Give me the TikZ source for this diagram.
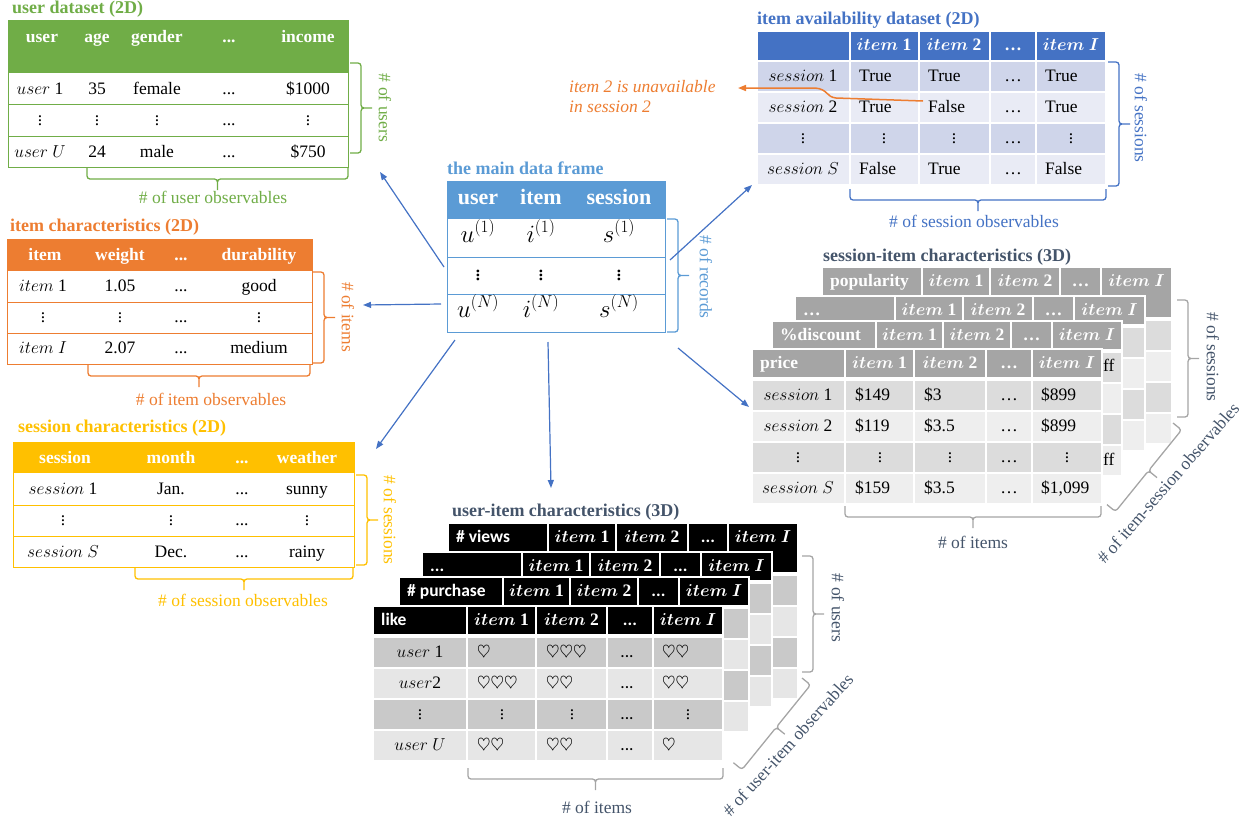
\documentclass[tikz,border=0pt]{standalone}
\usepackage{fontspec}
\setmainfont{Liberation Serif}
\newfontfamily\calib{Carlito}
\usepackage{bm}
\usetikzlibrary{arrows.meta}
\definecolor{ugreen}{HTML}{70AD47}
\definecolor{iorange}{HTML}{ED7D31}
\definecolor{sgold}{HTML}{FFC000}
\definecolor{mblue}{HTML}{5B9BD5}
\definecolor{ablue}{HTML}{4472C4}
\definecolor{arow}{HTML}{CFD5EA}
\definecolor{brow}{HTML}{E9EBF5}
\definecolor{slate}{HTML}{44546A}
\definecolor{gbrace}{HTML}{A5A5A5}
\definecolor{ghead}{HTML}{A5A5A5}
\definecolor{gdark}{HTML}{DCDCDC}
\definecolor{glight}{HTML}{EEEEEE}
\definecolor{kdark}{HTML}{C9C9C9}
\definecolor{klight}{HTML}{E6E6E6}
\newcommand\tdots{...}
\def\sheethead{ghead}\def\sheetdark{gdark}\def\sheetlight{glight}\def\sheetfont{\rmfamily}\def\hdots{\ldots}
% one layer of a 3D table: x, y, header height, first label, column borders, name
\newcommand\sheet[9]{%
  \begin{scope}[shift={(#1,#2)}]
    \foreach \r in {0,...,3}{%
      \pgfmathsetmacro\ya{#3+2+31*\r}%
      \ifodd\r\def\rf{\sheetlight}\else\def\rf{\sheetdark}\fi
      \foreach \ca/\cb in {0/#5,#5/#6,#6/#7,#7/#8,#8/350}
        \filldraw[fill=\rf,draw=white,line width=1.5pt] (\ca,\ya) rectangle (\cb,\ya+31);
    }
    \foreach \ca/\cb in {0/#5,#5/#6,#6/#7,#7/#8,#8/350}
      \filldraw[hdcell] (\ca,0) rectangle (\cb,#3);
    \node[sheetlab] (#9-h1) at (8,15) {#4};
    \node[hd] (#9-h2) at ({(#5+#6)/2},15) {$\bm{item}$ 1};
    \node[hd] (#9-h3) at ({(#6+#7)/2},15) {$\bm{item}$ 2};
    \node[sheetlab,anchor=center] (#9-h4) at ({(#7+#8)/2},15) {\hdots};
    \node[hd] (#9-h5) at ({(#8+350)/2},15) {$\bm{item\ I}$};
  \end{scope}}
\tikzset{
  txt/.style={inner sep=0,text height=12pt,text depth=4pt},
  lt/.style={txt,anchor=west},
  hd/.style={txt,text=white,font=\fontsize{17.5}{20}\selectfont\bfseries},
  ttl/.style={anchor=west,inner sep=0,font=\fontsize{18}{20}\selectfont\bfseries},
  lbl/.style={inner sep=0},
  hdcell/.style={fill=\sheethead,draw=white,line width=1.5pt},
  sheetlab/.style={hd,anchor=west,font=\fontsize{17.5}{20}\selectfont\sheetfont\bfseries},
  conn/.style={ablue,line width=1.2pt,->},
  brk/.pic={\draw[pic actions,rounded corners=3pt,line width=1.3pt]
    (0,0) -| (11,{#1/2}) -- (22,{#1/2}) (0,#1) -| (11,{#1/2}) -- (22,{#1/2});},
}
\begin{document}
\begin{tikzpicture}[x=1pt,y=-1pt,>={Triangle[length=8pt,width=6pt]},font=\fontsize{17.5}{20}\selectfont]
\useasboundingbox (0,0) rectangle (1250,820);
% user dataset
\node[ttl,ugreen] (ud) at (12,9) {user dataset (2D)};
\fill[ugreen] (8,20) rectangle (348,73);
\draw[ugreen,line width=1pt] (8,20) rectangle (348,167) (8,104) -- (348,104) (8,136) -- (348,136);
\foreach \x/\t [count=\i] in {42/user,97/age,157/gender,229/\tdots,308/income}
  \node[hd] (ud-0-\i) at (\x,38) {\t};
\foreach \y/\va/\vb/\vc/\vd [count=\j] in {90/{$user$ 1}/35/female/\$1000,121/{$\vdots$}/{$\vdots$}/{$\vdots$}/{$\vdots$},153/{$user$ $U$}/24/male/\$750}{
  \node[txt] (ud-\j-1) at (40,\y) {\va};
  \node[txt] (ud-\j-2) at (97,\y) {\vb};
  \node[txt] (ud-\j-3) at (157,\y) {\vc};
  \node[txt] (ud-\j-4) at (229,\y) {\tdots};
  \node[txt] (ud-\j-5) at (308,\y) {\vd};
}
\pic[color=ugreen] at (350,63) {brk=90};
\node[lbl,ugreen,rotate=-90] (ud-r) at (385,108) {\# of users};
\pic[color=ugreen,rotate=-90] at (348,168) {brk=261};
\node[lbl,ugreen] (ud-c) at (213,197) {\# of user observables};
% item characteristics
\node[ttl,iorange] (ic) at (10,227) {item characteristics (2D)};
\fill[iorange] (7,239) rectangle (312,271);
\draw[iorange,line width=1pt] (7,239) rectangle (312,364) (7,302) -- (312,302) (7,333) -- (312,333);
\foreach \x/\t [count=\i] in {45/item,120/weight,181/\tdots,259/durability}
  \node[hd] (ic-0-\i) at (\x,256) {\t};
\foreach \y/\va/\vb/\vd [count=\j] in {287/{$item$ 1}/1.05/good,318/{$\vdots$}/{$\vdots$}/{$\vdots$},349/{$item$ $I$}/2.07/medium}{
  \node[txt] (ic-\j-1) at (43,\y) {\va};
  \node[txt] (ic-\j-2) at (120,\y) {\vb};
  \node[txt] (ic-\j-3) at (181,\y) {\tdots};
  \node[txt] (ic-\j-4) at (259,\y) {\vd};
}
\pic[color=iorange] at (313,272) {brk=91};
\node[lbl,iorange,rotate=-90] (ic-r) at (348,317) {\# of items};
\pic[color=iorange,rotate=-90] at (310,365) {brk=222};
\node[lbl,iorange] (ic-c) at (211,399) {\# of item observables};
% session characteristics
\node[ttl,sgold] (sc) at (18,428) {session characteristics (2D)};
\fill[sgold] (13,442) rectangle (354,473);
\draw[sgold,line width=1pt] (13,442) rectangle (354,567) (13,505) -- (354,505) (13,536) -- (354,536);
\foreach \x/\t [count=\i] in {65/session,171/month,242/\tdots,307/weather}
  \node[hd] (sc-0-\i) at (\x,459) {\t};
\foreach \y/\va/\vb/\vd [count=\j] in {490/{$session$ 1}/Jan./sunny,521/{$\vdots$}/{$\vdots$}/{$\vdots$},553/{$session$ $S$}/Dec./rainy}{
  \node[txt] (sc-\j-1) at (63,\y) {\va};
  \node[txt] (sc-\j-2) at (171,\y) {\vb};
  \node[txt] (sc-\j-3) at (242,\y) {\tdots};
  \node[txt] (sc-\j-4) at (307,\y) {\vd};
}
\pic[color=sgold] at (356,475) {brk=90};
\node[lbl,sgold,rotate=-90] (sc-r) at (390,520) {\# of sessions};
\pic[color=sgold,rotate=-90] at (353,568) {brk=218};
\node[lbl,sgold] (sc-c) at (243,600) {\# of session observables};
% the main data frame
\node[ttl,mblue] (mf) at (447,168) {the main data frame};
\fill[mblue] (447,181) rectangle (665,219);
\draw[mblue,line width=1pt] (447,181) rectangle (665,332) (447,257) -- (665,257) (447,294) -- (665,294);
\foreach \x/\t [count=\i] in {478/user,541/item,619/session}
  \node[hd,font=\fontsize{22}{24}\selectfont\bfseries] (mf-0-\i) at (\x,200) {\t};
\foreach \y/\va/\vb/\vc [count=\j] in {238/{$u^{(1)}$}/{$i^{(1)}$}/{$s^{(1)}$},276/{$\vdots$}/{$\vdots$}/{$\vdots$},313/{$u^{(N)}$}/{$i^{(N)}$}/{$s^{(N)}$}}{
  \node[txt,font=\fontsize{23}{26}\selectfont] (mf-\j-1) at (478,\y) {\va};
  \node[txt,font=\fontsize{23}{26}\selectfont] (mf-\j-2) at (541,\y) {\vb};
  \node[txt,font=\fontsize{23}{26}\selectfont] (mf-\j-3) at (619,\y) {\vc};
}
\pic[color=mblue] at (667,219) {brk=113};
\node[lbl,mblue,rotate=-90] (mf-r) at (706,277) {\# of records};
% item availability dataset
\node[ttl,ablue] (av) at (757,20) {item availability dataset (2D)};
\foreach \ca/\cb in {757/850,850/919,919/990,990/1036,1036/1106}{
  \filldraw[fill=ablue,draw=white,line width=1.5pt] (\ca,31) rectangle (\cb,61);
  \foreach \r in {0,...,3}{
    \ifodd\r\def\rf{brow}\else\def\rf{arow}\fi
    \filldraw[fill=\rf,draw=white,line width=1.5pt] (\ca,61+31*\r) rectangle (\cb,92+31*\r);
  }
}
\node[hd] (av-0-2) at (884,46) {$\bm{item}$ 1};
\node[hd] (av-0-3) at (954,46) {$\bm{item}$ 2};
\node[hd] (av-0-4) at (1013,46) {\ldots};
\node[hd] (av-0-5) at (1071,46) {$\bm{item\ I}$};
\foreach \j/\y/\lb/\va/\vb/\vc in {1/77/{$session$ 1}/True/True/True,2/108/{$session$ 2}/True/False/True,4/170/{$session$ $S$}/False/True/False}{
  \node[txt] (av-\j-1) at (803,\y) {\lb};
  \node[lt] (av-\j-2) at (859,\y) {\va};
  \node[lt] (av-\j-3) at (928,\y) {\vb};
  \node[txt] (av-\j-4) at (1013,\y) {\ldots};
  \node[lt] (av-\j-5) at (1045,\y) {\vc};
}
\foreach \x/\t [count=\i] in {803/{$\vdots$},884/{$\vdots$},954/{$\vdots$},1013/{\ldots},1071/{$\vdots$}}
  \node[txt] (av-3-\i) at (\x,139) {\t};
\pic[color=ablue] at (1108,62) {brk=124};
\node[lbl,ablue,rotate=-90] (av-r) at (1141,118) {\# of sessions};
\pic[color=ablue,rotate=-90] at (1106,189) {brk=256};
\node[lbl,ablue] (av-c) at (974,221) {\# of session observables};
\node[iorange,anchor=west,inner sep=0,align=left,font=\fontsize{17.5}{20}\selectfont\itshape] (note) at (569,97) {item 2 is unavailable\\in session 2};
\coordinate (na) at (738,88);
\draw[iorange,line width=1.5pt,->] ([shift={(-5,-7)}]av-2-3.west) -- (836,98) .. controls (826,97) and (828,89) .. (815,88) -- (na);
% session-item characteristics
\node[ttl,slate] (si) at (823,257) {session-item characteristics (3D)};
\begin{scope}
  \sheet{822}{267}{51}{popularity}{100}{168}{238}{279}{si4}
  \sheet{795}{296}{29}{\hdots}{100}{168}{238}{279}{si3}
  \sheet{772}{321}{29}{\%discount}{104}{171}{239}{280}{si2}
  \node[lt] (si2-1) at (1103,367) {ff};
  \node[lt] (si2-4) at (1103,461) {ff};
  \sheet{752}{349}{29}{price}{93}{162}{234}{280}{si1}
  \foreach \j/\y/\lb/\va/\vb/\vc in {1/396/{$session$ 1}/\$149/\$3/\$899,2/427/{$session$ 2}/\$119/\$3.5/\$899,4/489/{$session$ $S$}/\$159/\$3.5/{\$1,099}}{
    \node[txt] (si1-\j-1) at (798,\y) {\lb};
    \node[lt] (si1-\j-2) at (855,\y) {\va};
    \node[lt] (si1-\j-3) at (924,\y) {\vb};
    \node[txt] (si1-\j-4) at (1009,\y) {\ldots};
    \node[lt] (si1-\j-5) at (1041,\y) {\vc};
  }
  \foreach \x/\t [count=\i] in {798/{$\vdots$},880/{$\vdots$},950/{$\vdots$},1009/{\ldots},1067/{$\vdots$}}
    \node[txt] (si1-3-\i) at (\x,458) {\t};
\end{scope}
\pic[color=gbrace] at (1177,300) {brk=117};
\node[lbl,slate,rotate=-90] (si-r) at (1213,357) {\# of sessions};
\pic[color=gbrace,rotate=-90] at (1101,506) {brk=256};
\node[lbl,slate] (si-c) at (973,542) {\# of items};
\pic[color=gbrace,rotate=-39] at (1173,423) {brk=105};
\node[lbl,slate,rotate=49] (si-d) at (1168,483) {\# of item-session observables};
% user-item characteristics
\node[ttl,slate] (ui) at (452,512) {user-item characteristics (3D)};
\begin{scope}
  \def\sheethead{black}\def\sheetdark{kdark}\def\sheetlight{klight}\def\sheetfont{\calib}\def\hdots{...}
  \sheet{448}{523}{50}{\# views}{100}{168}{240}{280}{ui4}
  \sheet{422}{552}{29}{\hdots}{100}{168}{238}{279}{ui3}
  \sheet{399}{577}{29}{\# purchase}{104}{171}{239}{280}{ui2}
  \sheet{373}{606}{29}{like}{94}{163}{234}{280}{ui1}
  \def\hh{$\heartsuit$}
  \foreach \j/\y/\lb/\va/\vb/\vc in {1/653/{$user$ 1}/{\hh}/{\hh\hh\hh}/{\hh\hh},2/684/{$user$2}/{\hh\hh\hh}/{\hh\hh}/{\hh\hh},4/746/{$user$ $U$}/{\hh\hh}/{\hh\hh}/{\hh}}{
    \node[txt] (ui1-\j-1) at (420,\y) {\lb};
    \node[lt] (ui1-\j-2) at (477,\y) {\va};
    \node[lt] (ui1-\j-3) at (546,\y) {\vb};
    \node[txt] (ui1-\j-4) at (627,\y) {\calib ...};
    \node[lt] (ui1-\j-5) at (662,\y) {\vc};
  }
  \foreach \x/\t [count=\i] in {420/{$\vdots$},502/{$\vdots$},572/{$\vdots$},627/{\calib ...},688/{$\vdots$}}
    \node[txt] (ui1-3-\i) at (\x,715) {\t};
\end{scope}
\pic[color=gbrace] at (802,556) {brk=116};
\node[lbl,slate,rotate=-90] (ui-r) at (838,608) {\# of users};
\pic[color=gbrace,rotate=-90] at (723,768) {brk=255};
\node[lbl,slate] (ui-c) at (597,807) {\# of items};
\pic[color=gbrace,rotate=-39] at (802,678) {brk=109};
\node[lbl,slate,rotate=48] (ui-d) at (788,745) {\# of user-item observables};
% arrows from the main data frame
\coordinate (s1) at (444,267); \coordinate (e1) at (380,172);
\coordinate (s2) at (441,304); \coordinate (e2) at (363,305);
\coordinate (s3) at (455,340); \coordinate (e3) at (376,449);
\coordinate (s4) at (548,342); \coordinate (e4) at (551,488);
\coordinate (s5) at (678,348); \coordinate (e5) at (749,407);
\coordinate (s6) at (670,260); \coordinate (e6) at (752,185);
\foreach \k in {1,...,6}
  \draw[conn] (s\k) -- (e\k);
\end{tikzpicture}
\end{document}
